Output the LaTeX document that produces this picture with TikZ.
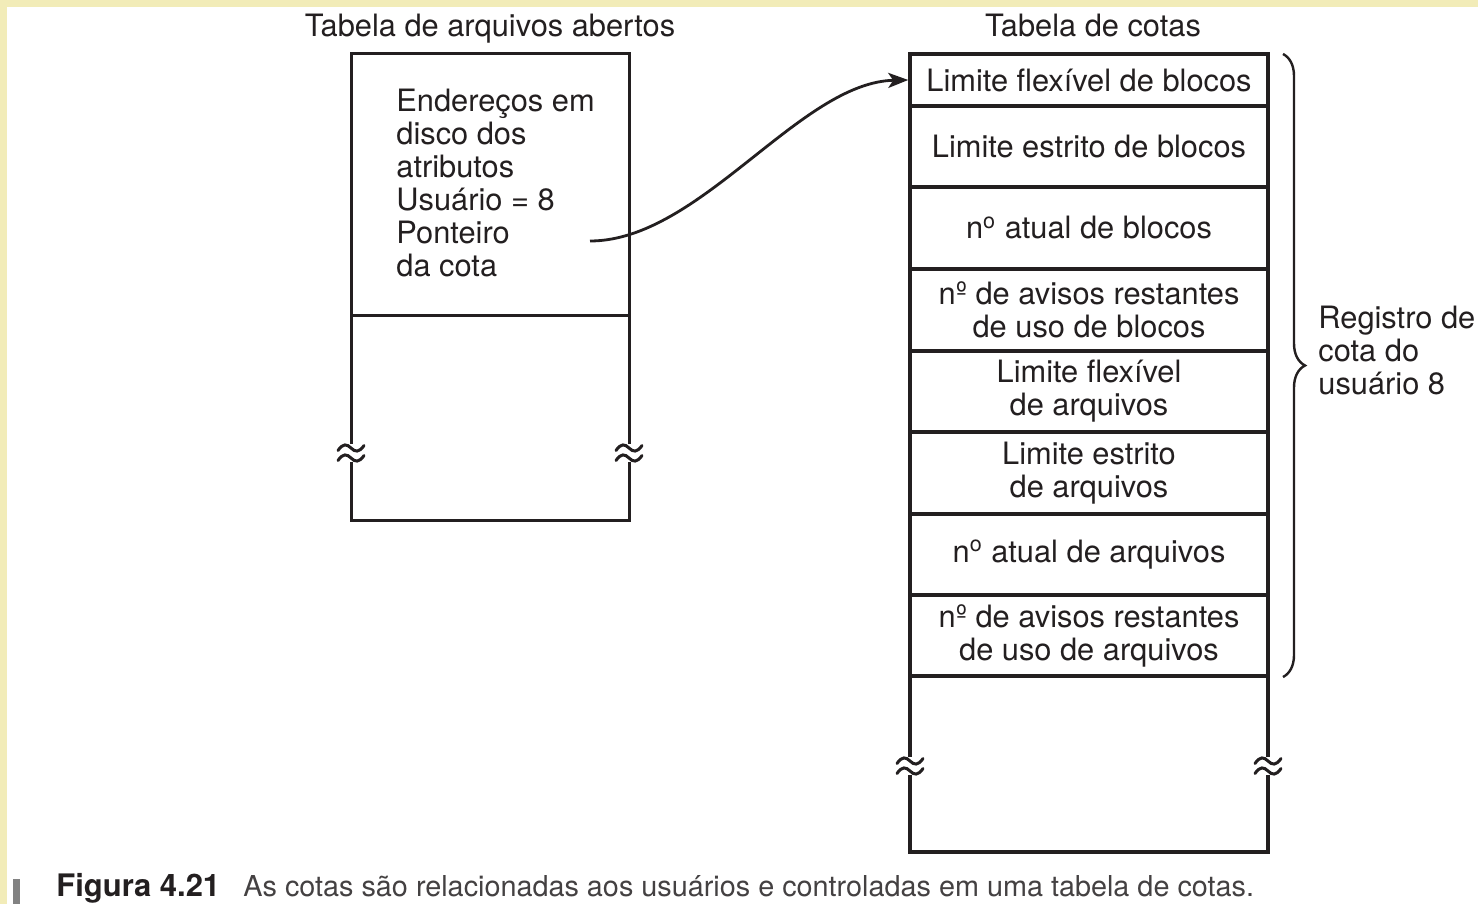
\documentclass[tikz,border=0pt]{standalone}
\usepackage{fontspec}
\setmainfont{TeX Gyre Heros}
\usetikzlibrary{arrows.meta,decorations.pathreplacing}
\definecolor{bgyellow}{RGB}{242,236,184}
\definecolor{ink}{RGB}{35,31,32}
\definecolor{bargray}{RGB}{130,130,130}
\begin{document}
\begin{tikzpicture}[x=0.5pt,y=-0.5pt,
  txt/.style={font=\fontsize{15.4}{16.5}\selectfont, text=ink, inner sep=0pt},
  row/.style={draw=ink, line width=1.75pt, minimum width=179pt, inner sep=0pt,
    align=center, font=\fontsize{15.4}{16.5}\selectfont, text=ink},
  thinbox/.style={draw=ink, line width=1.5pt, line join=miter},
  thickbox/.style={draw=ink, line width=1.75pt, line join=miter},
  brk/.pic={
    \draw[ink, line width=1.5pt, line cap=round]
      (-13,-2.5) .. controls (-8,-10) and (-4,-9) .. (0,-5) .. controls (4,-1) and (8,0) .. (13,-7.5)
      (-13,7.5) .. controls (-8,0) and (-4,1) .. (0,5) .. controls (4,9) and (8,10) .. (13,2.5);
  }
]
% background
\fill[bgyellow] (0,0) rectangle (1478,904);
\fill[white] (7,7) rectangle (1478,904);
\useasboundingbox (0,0) rectangle (1478,904);

% titles
\node[txt, anchor=base] (t1) at (490,37) {Tabela de arquivos abertos};
\node[txt, anchor=base] (t2) at (1093,37) {Tabela de cotas};

% left table
\draw[thinbox] (351,444) -- (351,54) -- (629,54) -- (629,444);
\draw[thinbox] (351,462) -- (351,520) -- (629,520) -- (629,462);
\draw[thinbox] (351,315) -- (629,315);
\pic at (351,453) {brk};
\pic at (629,453) {brk};
\node[txt, align=left, anchor=north west] (attr) at (396,89)
  {Endereços em\\disco dos\\atributos\\Usuário = 8\\Ponteiro\\da cota};
\coordinate (ptr) at (590,241);

% right table rows
\node[row, minimum height=26pt]   (r1) at (1089,80)    {Limite flexível de blocos};
\node[row, minimum height=40.5pt] (r2) at (1089,146.5) {Limite estrito de blocos};
\node[row, minimum height=41pt]   (r3) at (1089,228)   {n\textsuperscript{o} atual de blocos};
\node[row, minimum height=41pt]   (r4) at (1089,310)   {nº de avisos restantes\\de uso de blocos};
\node[row, minimum height=40.5pt] (r5) at (1089,391.5) {Limite flexível\\de arquivos};
\node[row, minimum height=41pt]   (r6) at (1089,473)   {Limite estrito\\de arquivos};
\node[row, minimum height=40.5pt] (r7) at (1089,554.5) {n\textsuperscript{o} atual de arquivos};
\node[row, minimum height=40.5pt] (r8) at (1089,635.5) {nº de avisos restantes\\de uso de arquivos};
\draw[thickbox] (910,676) -- (910,757);
\draw[thickbox] (1268,676) -- (1268,757);
\draw[thickbox] (910,775) -- (910,852) -- (1268,852) -- (1268,775);
\pic at (910,766) {brk};
\pic at (1268,766) {brk};

% pointer arrow
\draw[ink, line width=1.4pt, -{Stealth[length=10pt,width=7.5pt,inset=2.5pt]}]
  (ptr) .. controls (700,241) and (800,82) .. (r1.west);

% brace
\coordinate (bt) at (1283,54);
\coordinate (bb) at (1283,677);
\draw[ink, line width=1.2pt, decorate, decoration={brace, amplitude=11pt}] (bt) -- (bb);
\node[txt, align=left, anchor=north west] (reg) at (1318,306) {Registro de\\cota do\\usuário 8};

% caption
\fill[bargray] (13,879) rectangle (20,904);
\node[anchor=base west, inner sep=0pt, font=\fontsize{15.5}{18}\selectfont\bfseries, text=ink] (fig) at (56,896) {Figura 4.21};
\node[anchor=base west, inner sep=0pt, font=\fontsize{14.4}{18}\selectfont, text=ink!85] (cap) at (243,896)
  {As cotas são relacionadas aos usuários e controladas em uma tabela de cotas.};
\end{tikzpicture}
\end{document}
